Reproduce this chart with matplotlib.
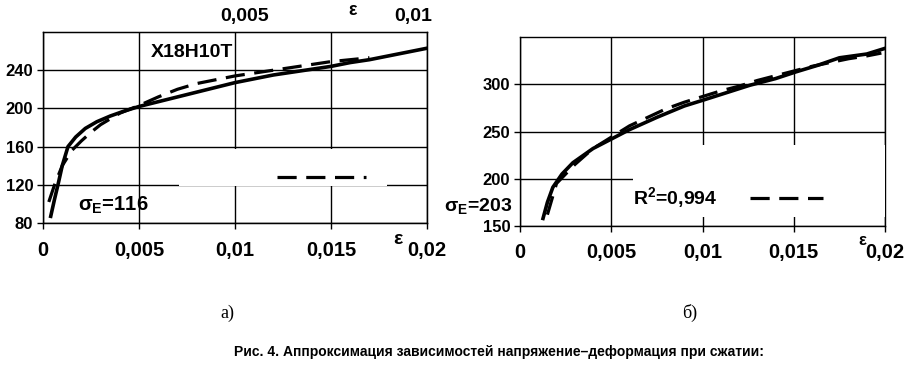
import matplotlib.pyplot as plt
from matplotlib.patches import Rectangle

# panel a) X18H10T
a_eps = [0.0004, 0.0006, 0.0008, 0.001, 0.0013, 0.0017, 0.0022, 0.0028, 0.0035, 0.0042, 0.005,
         0.006, 0.007, 0.008, 0.009, 0.01, 0.011, 0.012, 0.013, 0.014, 0.015, 0.016, 0.017,
         0.018, 0.019, 0.02]
a_sig = [87, 105, 122, 140, 160, 170, 179, 186, 192, 197, 202, 207, 212, 217, 222, 227, 231,
         235, 238, 241, 244, 248, 251, 255, 259, 263]
a_fit_eps = [0.0003, 0.0006, 0.001, 0.0015, 0.002, 0.0025, 0.003, 0.0035, 0.004, 0.005, 0.006,
             0.007, 0.008, 0.009, 0.01, 0.011, 0.012, 0.013, 0.014, 0.015, 0.016, 0.017]
a_fit_sig = [102, 120, 140, 156, 166, 175, 183, 189, 195, 203, 212, 220, 226, 230, 234, 237,
             240, 243, 246, 249, 251, 253]

# panel b)
b_eps = [0.00126, 0.0015, 0.0018, 0.0023, 0.0029, 0.004, 0.0051, 0.006, 0.0075, 0.009, 0.01,
         0.0113, 0.0126, 0.014, 0.0151, 0.0163, 0.0175, 0.019, 0.02]
b_sig = [158, 175, 191, 205, 217, 232, 243, 252, 265, 277, 283, 291, 299, 306, 313, 320, 328,
         332, 338]
b_fit_eps = [0.0015, 0.002, 0.003, 0.004, 0.005, 0.006, 0.007, 0.008, 0.009, 0.01, 0.011, 0.012,
             0.013, 0.014, 0.015, 0.016, 0.017, 0.018, 0.019, 0.0198]
b_fit_sig = [162, 195, 215, 232, 244, 256, 265, 274, 281, 287, 293, 298, 304, 309, 314, 319,
             323, 327, 330, 333]

x_ticks = [0, 0.005, 0.01, 0.015, 0.02]
x_labels = ['0', '0,005', '0,01', '0,015', '0,02']
a_yticks = [80, 120, 160, 200, 240]
b_yticks = [150, 200, 250, 300]
top_ticks = [0.005, 0.01]
top_labels = ['0,005', '0,01']

fig = plt.figure(figsize=(9.08, 3.69), dpi=100)
bold = dict(family='Liberation Sans', fontweight='bold', color='black')
dash = (0, (6, 3))


def setup(ax, yticks, ylim):
    ax.set_xlim(0, 0.02)
    ax.set_ylim(*ylim)
    ax.set_xticks(x_ticks)
    ax.set_xticklabels(x_labels, fontsize=14.5, **bold)
    ax.set_yticks(yticks)
    ax.set_yticklabels([str(v) for v in yticks], fontsize=12, **bold)
    ax.tick_params(direction='out', length=4, width=1, pad=3, colors='black')
    ax.grid(True, color='black', lw=1)
    for s in ax.spines.values():
        s.set_color('black')
        s.set_linewidth(1)


# --- a)
ax1 = fig.add_axes([0.0474, 0.3957, 0.4229, 0.5176])
setup(ax1, a_yticks, (80, 280))
ax1.tick_params(axis='x', pad=9)
ax1.plot(a_eps, a_sig, color='black', lw=2.6)
ax1.plot(a_fit_eps, a_fit_sig, color='black', lw=2.3, ls=dash)
ax1.text(0.00776, 259, 'Х18Н10Т', fontsize=14, ha='center', va='center', **bold)
ax1.text(0.0018, 98, r'σ$_\mathregular{E}$=116', fontsize=14.5, ha='left', va='center', **bold)
ax1.add_patch(Rectangle((0.355, 0.196), 0.54, 0.19, transform=ax1.transAxes,
                        facecolor='white', edgecolor='none', zorder=3))
ax1.plot([0.61, 0.84], [0.24, 0.24], transform=ax1.transAxes, color='black', lw=2.3,
         ls=dash, zorder=4)
ax1.text(0.924, -0.085, 'ε', transform=ax1.transAxes, fontsize=14, ha='center',
         va='center', **bold)

top = ax1.twiny()
top.set_xlim(-0.00101, 0.01042)
top.set_xticks(top_ticks)
top.set_xticklabels(top_labels, fontsize=14, **bold)
top.tick_params(length=0, pad=5)
top.text(0.0082, 1.07, 'ε', transform=top.get_xaxis_transform(), fontsize=13,
         ha='center', va='bottom', **bold)

# --- b)
ax2 = fig.add_axes([0.5727, 0.3875, 0.4020, 0.5122])
setup(ax2, b_yticks, (150, 350))
ax2.tick_params(axis='x', pad=8)
ax2.plot(b_eps, b_sig, color='black', lw=2.6)
ax2.plot(b_fit_eps, b_fit_sig, color='black', lw=2.3, ls=dash)
ax2.add_patch(Rectangle((0.31, 0.05), 0.70, 0.38, transform=ax2.transAxes,
                        facecolor='white', edgecolor='none', zorder=3))
ax2.text(0.31, 0.145, r'R$^\mathregular{2}$=0,994', transform=ax2.transAxes, fontsize=14,
         ha='left', va='center', zorder=5, **bold)
ax2.plot([0.63, 0.83], [0.15, 0.15], transform=ax2.transAxes, color='black', lw=2.3,
         ls=dash, zorder=5)
fig.text(0.489, 1 - 207 / 369, r'σ$_\mathregular{E}$=203', fontsize=14, ha='left',
         va='center', **bold)
ax2.text(0.937, -0.075, 'ε', transform=ax2.transAxes, fontsize=12, ha='center',
         va='center', **bold)

# labels and caption
fig.text(227 / 908, 1 - 313 / 369, 'а)', fontsize=13, family='Liberation Serif',
         ha='center', va='center')
fig.text(690 / 908, 1 - 313 / 369, 'б)', fontsize=13, family='Liberation Serif',
         ha='center', va='center')
fig.text(499 / 908, 1 - 352 / 369,
         'Рис. 4. Аппроксимация зависимостей напряжение–деформация при сжатии:',
         fontsize=10, family='Liberation Sans', fontweight='bold',
         ha='center', va='center')

fig.savefig('out.png', dpi=100)
